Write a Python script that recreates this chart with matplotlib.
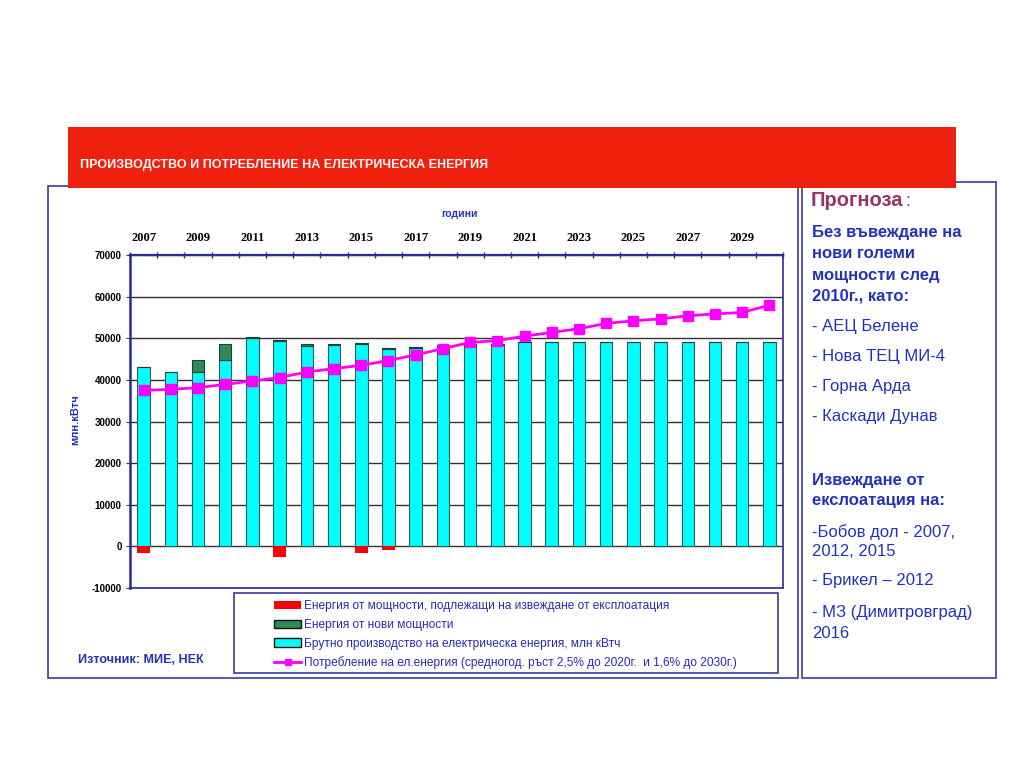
import matplotlib
matplotlib.use("Agg")
import matplotlib.pyplot as plt
import matplotlib.patches as mpatches
from matplotlib.lines import Line2D
import numpy as np

plt.rcParams["axes.unicode_minus"] = False

years = list(range(2007, 2031))
gross = [43000, 41800, 41800, 44700, 50100, 49250, 48200, 48350, 48600, 47450,
         47700, 48200, 48400, 48400, 49200, 49200, 49200, 49200, 49200, 49200,
         49200, 49200, 49200, 49200]
new_cap = [0, 0, 2900, 4000, 150, 250, 300, 250, 300, 250,
           300, 250, 100, 100, 0, 0, 0, 0, 0, 0,
           0, 0, 0, 0]
retired = [-1500, 0, 0, 0, 0, -2600, 0, 0, -1500, -800,
           0, 0, 0, 0, 0, 0, 0, 0, 0, 0,
           0, 0, 0, 0]
consumption = [37500, 37700, 38150, 38900, 39750, 40550, 41900, 42700, 43500, 44650,
               46000, 47500, 49000, 49450, 50500, 51400, 52300, 53550, 54200, 54650,
               55400, 55850, 56200, 57950]
top_labels = [str(y) for y in years[::2]]

legend_labels = [
    "Енергия от мощности, подлежащи на извеждане от експлоатация",
    "Енергия от нови мощности",
    "Брутно производство на електрическа енергия, млн кВтч",
    "Потребление на ел.енергия (средногод. ръст 2,5% до 2020г.  и 1,6% до 2030г.)",
]

SANS = ["Liberation Sans", "DejaVu Sans"]
SERIF = ["Liberation Serif", "DejaVu Serif"]
NAVY = "#2b2b99"
BLUE = "#2233bb"

W, H = 1024, 768
fig = plt.figure(figsize=(W / 100, H / 100), dpi=100)

def fx(x):
    return x / W

def fy(y):
    return 1 - y / H

# chart frame
fig.patches.append(mpatches.Rectangle((fx(48), fy(678)), 750 / W, 492 / H, fill=False,
                                      ec="#3a3aa8", lw=1.2, transform=fig.transFigure, zorder=1))
# right panel frame
fig.patches.append(mpatches.Rectangle((fx(802), fy(678)), 194 / W, 496 / H, fill=False,
                                      ec="#3a3aa8", lw=1.2, transform=fig.transFigure, zorder=1))
# red banner
fig.patches.append(mpatches.Rectangle((fx(68), fy(188)), (956 - 68) / W, 61 / H,
                                      fc="#f0200f", ec="none", transform=fig.transFigure, zorder=2))
fig.text(fx(80), fy(165), "ПРОИЗВОДСТВО И ПОТРЕБЛЕНИЕ НА ЕЛЕКТРИЧЕСКА ЕНЕРГИЯ",
         color="white", fontsize=9, fontweight="bold", family=SANS, va="center", ha="left", zorder=3)

# main axes
ax = fig.add_axes([130 / W, fy(588), 653 / W, 333 / H])
x = np.arange(len(years))
bw = 0.46
ax.bar(x, gross, bw, color="#00ffff", edgecolor="#2f5f5f", lw=0.8, zorder=3)
ax.bar(x, new_cap, bw, bottom=gross, color="#2e8b57", edgecolor="#1f3f2f", lw=0.8, zorder=3)
ax.bar(x, retired, bw, color="#ff0000", edgecolor="none", zorder=3)
ax.plot(x, consumption, color="#ff00ff", lw=2, marker="s", markersize=7,
        markeredgecolor="#ff00ff", zorder=5)

ax.set_xlim(-0.5, len(years) - 0.5)
ax.set_ylim(-10000, 70000)
ax.set_yticks(range(-10000, 70001, 10000))
ax.set_yticklabels([str(v) for v in range(-10000, 70001, 10000)])
ax.yaxis.grid(True, color="#333333", lw=1)
ax.set_axisbelow(True)
for lab in ax.get_yticklabels():
    lab.set_fontfamily(SANS)
    lab.set_fontweight("bold")
    lab.set_fontsize(7)
ax.tick_params(axis="y", length=3, color=NAVY, pad=3)

ax.xaxis.tick_top()
ax.set_xticks(x[::2])
ax.set_xticklabels(top_labels, family=SERIF, fontweight="bold", fontsize=9)
ax.set_xticks(np.arange(-0.5, len(years), 1), minor=True)
ax.tick_params(axis="x", which="major", length=0, pad=8)
ax.tick_params(axis="x", which="minor", length=4, direction="inout", color=NAVY, width=1)

for side in ["left", "right", "top", "bottom"]:
    ax.spines[side].set_color(NAVY)
    ax.spines[side].set_linewidth(1.2)
ax.spines["left"].set_linewidth(1.8)
ax.spines["top"].set_linewidth(1.6)

fig.text(fx(460), fy(214), "години", color=BLUE, fontsize=7.5, fontweight="bold",
         family=SANS, ha="center", va="center")
fig.text(fx(75), fy(420), "млн.кВтч", color=BLUE, fontsize=8, fontweight="bold",
         family=SANS, ha="center", va="center", rotation=90)
fig.text(fx(78), fy(660), "Източник: МИЕ, НЕК", color=BLUE, fontsize=9, fontweight="bold",
         family=SANS, ha="left", va="center")

# legend
fig.patches.append(mpatches.Rectangle((fx(234), fy(673)), 544 / W, 80 / H, fill=False,
                                      ec="#3a3aa8", lw=1.2, transform=fig.transFigure, zorder=1))
handles = [
    mpatches.Patch(fc="#ff0000", ec="none"),
    mpatches.Patch(fc="#2e8b57", ec="#111111", lw=1),
    mpatches.Patch(fc="#00ffff", ec="#111111", lw=1),
    Line2D([0], [0], color="#ff00ff", lw=2, marker="s", markersize=5),
]
leg = fig.legend(handles, legend_labels, loc="upper left",
                 bbox_to_anchor=(fx(266), fy(592)), frameon=False,
                 prop={"family": SANS, "size": 8.6}, handlelength=2.2, handleheight=0.7,
                 handletextpad=0.3, labelspacing=0.55, borderpad=0.2)
for t in leg.get_texts():
    t.set_color("#2a2ab8")

# right panel text
t_head = fig.text(fx(811), fy(200), "Прогноза", color="#993366", fontsize=14.5, fontweight="bold",
                  family=SANS, ha="left", va="center")
plt.annotate(":", xy=(1, 0.5), xycoords=t_head, xytext=(1, -1),
             textcoords="offset points", color="#993366", fontsize=13,
             family=SANS, ha="left", va="center", annotation_clip=False)
bold_lines = [("Без въвеждане на", 233), ("нови големи", 254), ("мощности след", 275),
              ("2010г., като:", 296), ("Извеждане от", 480), ("екслоатация на:", 500)]
for s, y in bold_lines:
    fig.text(fx(812), fy(y), s, color=BLUE, fontsize=12, fontweight="bold",
             family=SANS, ha="left", va="center")
reg_lines = [("- АЕЦ Белене", 326), ("- Нова ТЕЦ МИ-4", 356), ("- Горна Арда", 386),
             ("- Каскади Дунав", 417), ("-Бобов дол - 2007,", 532), ("2012, 2015", 551),
             ("- Брикел – 2012", 581), ("- МЗ (Димитровград)", 612), ("2016", 633)]
for s, y in reg_lines:
    fig.text(fx(812), fy(y), s, color=BLUE, fontsize=12,
             family=SANS, ha="left", va="center")

fig.savefig("out.png", dpi=100)
